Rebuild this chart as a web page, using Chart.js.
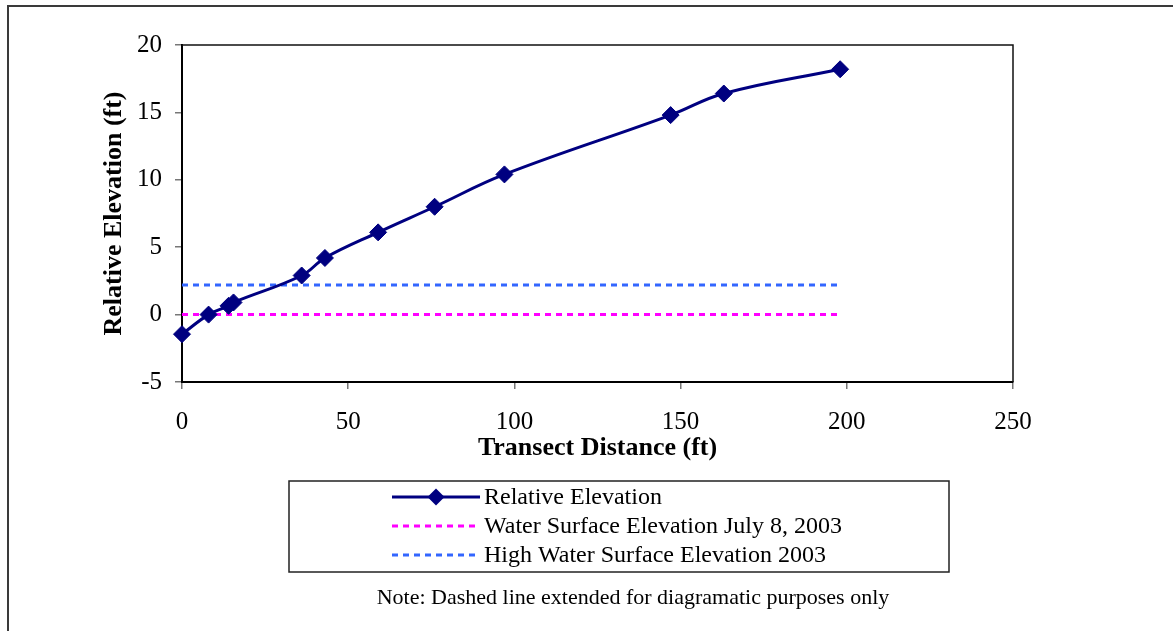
<!DOCTYPE html>
<html>
<head>
<meta charset="utf-8">
<title>Relative Elevation transect</title>
<script src="https://cdn.jsdelivr.net/npm/chart.js@4.4.1/dist/chart.umd.min.js"></script>
<style>
  html, body { margin: 0; padding: 0; background: #fff; }
  #wrap { width: 1173px; height: 631px; }
</style>
</head>
<body>
<div id="wrap"><canvas id="transect" width="1173" height="631"></canvas></div>
<script>
// transect survey
const distance = [0, 8, 14, 15.5, 36, 43, 59, 76, 97, 147, 163, 198]
const elevation = [-1.45, 0, 0.65, 0.9, 2.9, 4.2, 6.1, 8.0, 10.4, 14.8, 16.4, 18.2]

// dashed reference levels (drawn out to the last station)
const waterX = [0, 198]
const waterY = [0, 0]
const highWaterX = [0, 198]
const highWaterY = [2.2, 2.2]

const xTicks = [0, 50, 100, 150, 200, 250]
const yTicks = [-5, 0, 5, 10, 15, 20]

const seriesLabels = [
  'Relative Elevation',
  'Water Surface Elevation July 8, 2003',
  'High Water Surface Elevation 2003'
]
const noteText = 'Note: Dashed line extended for diagramatic purposes only'

const SERIF = "'Liberation Serif', 'Times New Roman', serif"
const NAVY = '#000080'
const MAGENTA = '#ff00ff'
const BLUE = '#3366ff'

const toPoints = (xs, ys) => xs.map((x, i) => ({ x, y: ys[i] }))

// frame, legend box and footnote
const decorations = {
  id: 'decorations',
  beforeDraw(chart) {
    const c = chart.ctx
    c.save()
    c.fillStyle = '#fff'
    c.fillRect(0, 0, chart.width, chart.height)
    c.strokeStyle = '#3a3a3a'
    c.lineWidth = 2
    c.beginPath()
    c.moveTo(8, chart.height)
    c.lineTo(8, 6)
    c.lineTo(chart.width, 6)
    c.stroke()
    c.restore()
  },
  beforeDatasetsDraw(chart) {
    const { ctx: c, chartArea: a } = chart
    c.save()
    c.strokeStyle = '#111'
    c.lineWidth = 1.5
    c.beginPath()
    c.moveTo(a.left, a.top)
    c.lineTo(a.right, a.top)
    c.lineTo(a.right, a.bottom)
    c.stroke()
    c.restore()
  },
  afterDraw(chart) {
    const c = chart.ctx
    c.save()
    // legend box
    c.strokeStyle = '#222'
    c.lineWidth = 1.5
    c.strokeRect(289, 481, 660, 91)

    const rows = [497, 526, 555]
    chart.data.datasets.forEach((ds, i) => {
      const y = rows[i]
      c.strokeStyle = ds.borderColor
      c.lineWidth = ds.borderWidth
      c.setLineDash(ds.borderDash || [])
      c.beginPath()
      c.moveTo(392, y)
      c.lineTo(480, y)
      c.stroke()
      c.setLineDash([])
      if (ds.pointRadius > 0) {
        const r = ds.pointRadius
        c.fillStyle = ds.pointBackgroundColor
        c.beginPath()
        c.moveTo(436 - r, y)
        c.lineTo(436, y - r)
        c.lineTo(436 + r, y)
        c.lineTo(436, y + r)
        c.closePath()
        c.fill()
      }
      c.fillStyle = '#000'
      c.font = '24px ' + SERIF
      c.textAlign = 'left'
      c.textBaseline = 'middle'
      c.fillText(ds.label, 484, y + 1)
    })

    c.font = '22px ' + SERIF
    c.textAlign = 'center'
    c.fillText(noteText, 633, 598)
    c.restore()
  }
}

new Chart(document.getElementById('transect'), {
  type: 'scatter',
  data: {
    datasets: [
      {
        label: seriesLabels[0],
        data: toPoints(distance, elevation),
        showLine: true,
        clip: false,
        tension: 0.4,
        borderColor: NAVY,
        borderWidth: 3,
        pointStyle: 'rectRot',
        pointRadius: 8.5,
        pointBackgroundColor: NAVY,
        pointBorderColor: NAVY,
        pointBorderWidth: 1
      },
      {
        label: seriesLabels[1],
        data: toPoints(waterX, waterY),
        showLine: true,
        borderColor: MAGENTA,
        borderWidth: 3,
        borderDash: [6, 5],
        pointRadius: 0
      },
      {
        label: seriesLabels[2],
        data: toPoints(highWaterX, highWaterY),
        showLine: true,
        borderColor: BLUE,
        borderWidth: 3,
        borderDash: [6, 5],
        pointRadius: 0
      }
    ]
  },
  options: {
    responsive: false,
    animation: false,
    layout: { padding: { left: 97, top: 45, right: 160, bottom: 167 } },
    plugins: {
      legend: { display: false },
      tooltip: { enabled: false }
    },
    scales: {
      x: {
        type: 'linear',
        min: 0,
        max: 250,
        afterFit: (s) => { s.height = 82 },
        afterBuildTicks: (s) => { s.ticks = xTicks.map(v => ({ value: v })) },
        grid: { drawOnChartArea: false, tickLength: 7, color: '#777', lineWidth: 1.5 },
        border: { color: '#000', width: 2 },
        ticks: { color: '#000', padding: 18, font: { family: SERIF, size: 25 } },
        title: {
          display: true,
          text: 'Transect Distance (ft)',
          color: '#000',
          padding: 0,
          font: { family: SERIF, size: 26, weight: 'bold' }
        }
      },
      y: {
        type: 'linear',
        min: -5,
        max: 20,
        afterFit: (s) => { s.width = 85 },
        afterBuildTicks: (s) => { s.ticks = yTicks.map(v => ({ value: v })) },
        grid: { drawOnChartArea: false, tickLength: 7, color: '#777', lineWidth: 1.5 },
        border: { color: '#000', width: 2 },
        ticks: { color: '#000', padding: 13, font: { family: SERIF, size: 25 } },
        title: {
          display: true,
          text: 'Relative Elevation (ft)',
          color: '#000',
          padding: { top: 2, bottom: 0 },
          font: { family: SERIF, size: 26, weight: 'bold' }
        }
      }
    }
  },
  plugins: [decorations]
})
</script>
</body>
</html>
